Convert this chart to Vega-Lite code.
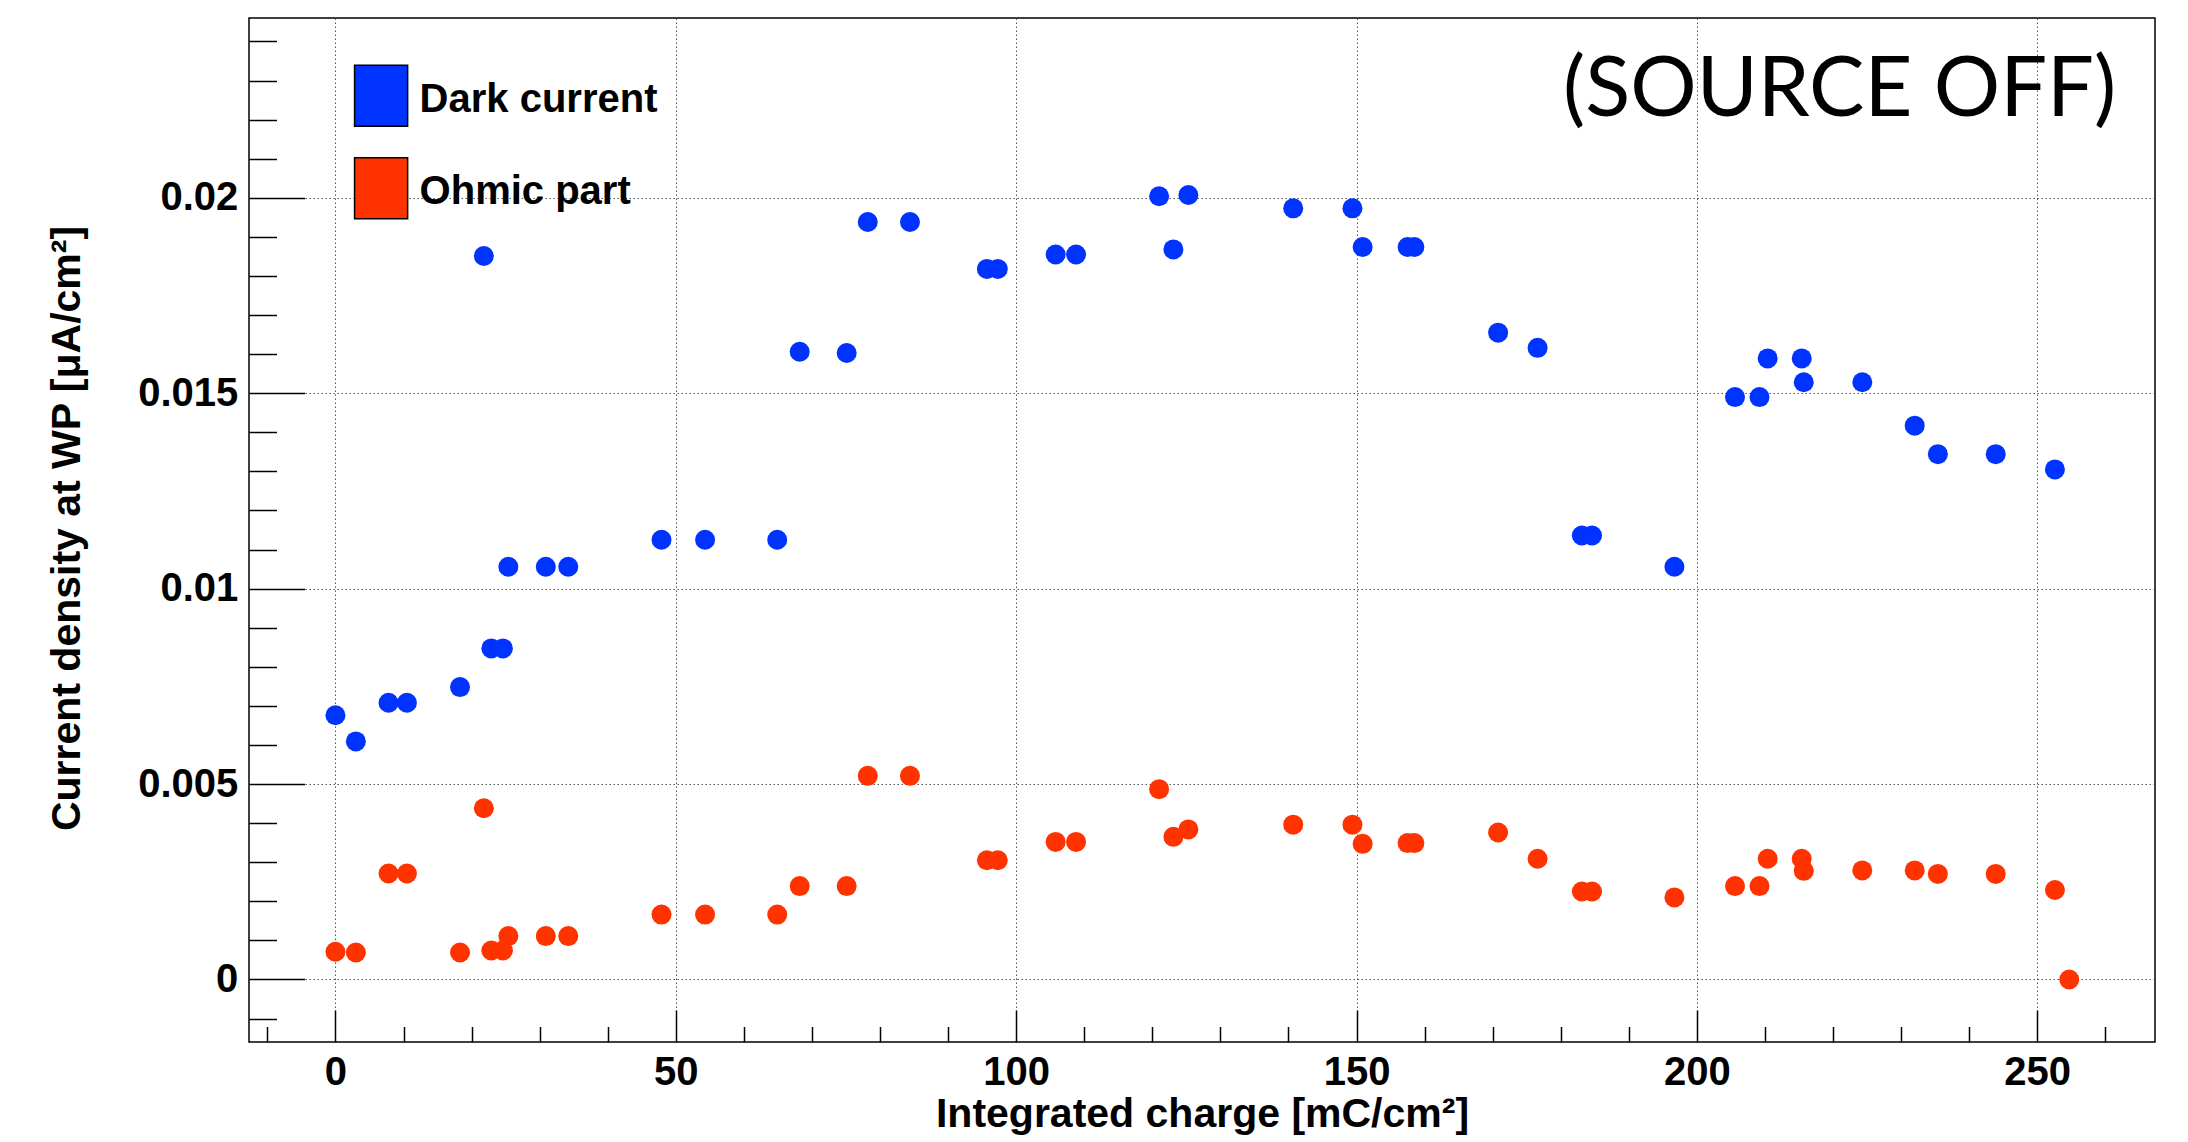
{
  "$schema": "https://vega.github.io/schema/vega-lite/v6.json",
  "width": 1906,
  "height": 1024,
  "autosize": "none",
  "padding": {"left": 249, "top": 18, "right": 33, "bottom": 100},
  "background": "white",
  "config": {
    "view": {"stroke": "black", "strokeWidth": 1.5},
    "axis": {
      "labelFont": "Liberation Sans", "labelFontWeight": "bold", "labelFontSize": 40, "labelColor": "black",
      "titleFont": "Liberation Sans", "titleFontWeight": "bold", "titleFontSize": 41, "titleColor": "black",
      "tickColor": "black", "tickWidth": 1.5, "domain": false,
      "gridColor": "#555555", "gridDash": [1.5, 2.5], "gridWidth": 1, "gridOpacity": 1,
      "labelFlush": false, "labelOverlap": false
    }
  },
  "datasets": {
    "pts": [
      {"charge": 0, "density": 0.00676, "series": "Dark current"},
      {"charge": 3.0, "density": 0.00609, "series": "Dark current"},
      {"charge": 7.8, "density": 0.00708, "series": "Dark current"},
      {"charge": 10.5, "density": 0.00708, "series": "Dark current"},
      {"charge": 18.3, "density": 0.00748, "series": "Dark current"},
      {"charge": 21.8, "density": 0.01851, "series": "Dark current"},
      {"charge": 22.9, "density": 0.00847, "series": "Dark current"},
      {"charge": 24.6, "density": 0.00847, "series": "Dark current"},
      {"charge": 25.4, "density": 0.01056, "series": "Dark current"},
      {"charge": 30.9, "density": 0.01056, "series": "Dark current"},
      {"charge": 34.2, "density": 0.01056, "series": "Dark current"},
      {"charge": 47.9, "density": 0.01125, "series": "Dark current"},
      {"charge": 54.3, "density": 0.01125, "series": "Dark current"},
      {"charge": 64.9, "density": 0.01125, "series": "Dark current"},
      {"charge": 68.2, "density": 0.01606, "series": "Dark current"},
      {"charge": 75.1, "density": 0.01603, "series": "Dark current"},
      {"charge": 78.2, "density": 0.01938, "series": "Dark current"},
      {"charge": 84.4, "density": 0.01938, "series": "Dark current"},
      {"charge": 95.7, "density": 0.01818, "series": "Dark current"},
      {"charge": 97.3, "density": 0.01818, "series": "Dark current"},
      {"charge": 105.8, "density": 0.01855, "series": "Dark current"},
      {"charge": 108.8, "density": 0.01855, "series": "Dark current"},
      {"charge": 121.0, "density": 0.02004, "series": "Dark current"},
      {"charge": 123.1, "density": 0.01868, "series": "Dark current"},
      {"charge": 125.3, "density": 0.02007, "series": "Dark current"},
      {"charge": 140.7, "density": 0.01973, "series": "Dark current"},
      {"charge": 149.4, "density": 0.01973, "series": "Dark current"},
      {"charge": 150.9, "density": 0.01874, "series": "Dark current"},
      {"charge": 157.5, "density": 0.01874, "series": "Dark current"},
      {"charge": 158.5, "density": 0.01874, "series": "Dark current"},
      {"charge": 170.8, "density": 0.01655, "series": "Dark current"},
      {"charge": 176.6, "density": 0.01616, "series": "Dark current"},
      {"charge": 183.1, "density": 0.01136, "series": "Dark current"},
      {"charge": 184.6, "density": 0.01136, "series": "Dark current"},
      {"charge": 196.7, "density": 0.01056, "series": "Dark current"},
      {"charge": 205.6, "density": 0.0149, "series": "Dark current"},
      {"charge": 209.2, "density": 0.0149, "series": "Dark current"},
      {"charge": 210.4, "density": 0.01589, "series": "Dark current"},
      {"charge": 215.4, "density": 0.01589, "series": "Dark current"},
      {"charge": 215.7, "density": 0.01528, "series": "Dark current"},
      {"charge": 224.3, "density": 0.01528, "series": "Dark current"},
      {"charge": 232.0, "density": 0.01417, "series": "Dark current"},
      {"charge": 235.4, "density": 0.01344, "series": "Dark current"},
      {"charge": 243.9, "density": 0.01344, "series": "Dark current"},
      {"charge": 252.6, "density": 0.01305, "series": "Dark current"},
      {"charge": 0, "density": 0.00071, "series": "Ohmic part"},
      {"charge": 3.0, "density": 0.00069, "series": "Ohmic part"},
      {"charge": 7.8, "density": 0.00271, "series": "Ohmic part"},
      {"charge": 10.5, "density": 0.00271, "series": "Ohmic part"},
      {"charge": 18.3, "density": 0.00069, "series": "Ohmic part"},
      {"charge": 21.8, "density": 0.00438, "series": "Ohmic part"},
      {"charge": 22.9, "density": 0.00074, "series": "Ohmic part"},
      {"charge": 24.6, "density": 0.00074, "series": "Ohmic part"},
      {"charge": 25.4, "density": 0.00111, "series": "Ohmic part"},
      {"charge": 30.9, "density": 0.00111, "series": "Ohmic part"},
      {"charge": 34.2, "density": 0.00111, "series": "Ohmic part"},
      {"charge": 47.9, "density": 0.00166, "series": "Ohmic part"},
      {"charge": 54.3, "density": 0.00166, "series": "Ohmic part"},
      {"charge": 64.9, "density": 0.00166, "series": "Ohmic part"},
      {"charge": 68.2, "density": 0.00239, "series": "Ohmic part"},
      {"charge": 75.1, "density": 0.00239, "series": "Ohmic part"},
      {"charge": 78.2, "density": 0.00521, "series": "Ohmic part"},
      {"charge": 84.4, "density": 0.00521, "series": "Ohmic part"},
      {"charge": 95.7, "density": 0.00305, "series": "Ohmic part"},
      {"charge": 97.3, "density": 0.00305, "series": "Ohmic part"},
      {"charge": 105.8, "density": 0.00352, "series": "Ohmic part"},
      {"charge": 108.8, "density": 0.00352, "series": "Ohmic part"},
      {"charge": 121.0, "density": 0.00487, "series": "Ohmic part"},
      {"charge": 123.1, "density": 0.00365, "series": "Ohmic part"},
      {"charge": 125.3, "density": 0.00384, "series": "Ohmic part"},
      {"charge": 140.7, "density": 0.00396, "series": "Ohmic part"},
      {"charge": 149.4, "density": 0.00396, "series": "Ohmic part"},
      {"charge": 150.9, "density": 0.00347, "series": "Ohmic part"},
      {"charge": 157.5, "density": 0.00349, "series": "Ohmic part"},
      {"charge": 158.5, "density": 0.00349, "series": "Ohmic part"},
      {"charge": 170.8, "density": 0.00376, "series": "Ohmic part"},
      {"charge": 176.6, "density": 0.00309, "series": "Ohmic part"},
      {"charge": 183.1, "density": 0.00225, "series": "Ohmic part"},
      {"charge": 184.6, "density": 0.00225, "series": "Ohmic part"},
      {"charge": 196.7, "density": 0.0021, "series": "Ohmic part"},
      {"charge": 205.6, "density": 0.00239, "series": "Ohmic part"},
      {"charge": 209.2, "density": 0.00239, "series": "Ohmic part"},
      {"charge": 210.4, "density": 0.00309, "series": "Ohmic part"},
      {"charge": 215.4, "density": 0.00309, "series": "Ohmic part"},
      {"charge": 215.7, "density": 0.00278, "series": "Ohmic part"},
      {"charge": 224.3, "density": 0.00279, "series": "Ohmic part"},
      {"charge": 232.0, "density": 0.00279, "series": "Ohmic part"},
      {"charge": 235.4, "density": 0.0027, "series": "Ohmic part"},
      {"charge": 243.9, "density": 0.0027, "series": "Ohmic part"},
      {"charge": 252.6, "density": 0.00229, "series": "Ohmic part"},
      {"charge": 254.7, "density": 0, "series": "Ohmic part"}
    ],
    "note": [{"label": "(SOURCE OFF)"}]
  },
  "resolve": {"axis": {"x": "independent", "y": "independent"}},
  "layer": [
    {
      "data": {"name": "note"},
      "mark": {"type": "text", "font": "Lato", "fontSize": 83, "align": "right", "baseline": "alphabetic", "color": "black"},
      "encoding": {
        "x": {
          "datum": 261.6, "type": "quantitative",
          "scale": {"domain": [-12.7, 267.3], "nice": false, "zero": false},
          "axis": {
            "orient": "bottom", "title": null, "labels": false, "grid": false,
            "values": [-10, 10, 20, 30, 40, 60, 70, 80, 90, 110, 120, 130, 140, 160, 170, 180, 190, 210, 220, 230, 240, 260],
            "tickSize": -15.5
          }
        },
        "y": {
          "datum": 0.0221, "type": "quantitative",
          "scale": {"domain": [-0.0016, 0.0246], "nice": false, "zero": false},
          "axis": {
            "orient": "left", "title": null, "labels": false, "grid": false,
            "values": [-0.001, 0.001, 0.002, 0.003, 0.004, 0.006, 0.007, 0.008, 0.009, 0.011, 0.012, 0.013, 0.014, 0.016, 0.017, 0.018, 0.019, 0.021, 0.022, 0.023, 0.024],
            "tickSize": -27.5
          }
        },
        "text": {"field": "label", "type": "nominal"}
      }
    },
    {
      "data": {"name": "pts"},
      "mark": {"type": "point", "filled": true, "shape": "circle", "size": 400, "opacity": 1, "strokeWidth": 0},
      "encoding": {
        "x": {
          "field": "charge", "type": "quantitative",
          "scale": {"domain": [-12.7, 267.3], "nice": false, "zero": false},
          "axis": {
            "orient": "bottom", "title": "Integrated charge [mC/cm²]",
            "values": [0, 50, 100, 150, 200, 250], "format": "d",
            "tickSize": -32, "labelBaseline": "alphabetic", "labelPadding": 74.2,
            "grid": true,
            "titleX": 953, "titleY": 84.5, "titleBaseline": "alphabetic", "titleAlign": "center"
          }
        },
        "y": {
          "field": "density", "type": "quantitative",
          "scale": {"domain": [-0.0016, 0.0246], "nice": false, "zero": false},
          "axis": {
            "orient": "left", "title": "Current density at WP [μA/cm²]",
            "values": [0, 0.005, 0.01, 0.015, 0.02], "format": "~g",
            "tickSize": -55.5, "labelPadding": 66.7, "labelBaseline": "middle",
            "grid": true,
            "titleX": -170, "titleY": 510, "titleAngle": 270, "titleBaseline": "alphabetic", "titleAlign": "center"
          }
        },
        "color": {
          "field": "series", "type": "nominal",
          "scale": {"domain": ["Dark current", "Ohmic part"], "range": ["#0033ff", "#ff3300"]},
          "legend": {
            "orient": "none", "legendX": 100.6, "legendY": 46.3, "title": null, "padding": 0,
            "symbolType": "M-0.87,-1H0.87V1H-0.87Z", "symbolSize": 3721,
            "symbolStrokeColor": "black", "symbolStrokeWidth": 1.5, "symbolOpacity": 1,
            "labelFont": "Liberation Sans", "labelFontWeight": "bold", "labelFontSize": 40, "labelColor": "black",
            "labelLimit": 0, "labelOffset": 7, "rowPadding": 25.5, "labelBaseline": "middle",
            "encode": {"labels": {"update": {"dy": {"value": 4}}}}
          }
        }
      }
    }
  ]
}
